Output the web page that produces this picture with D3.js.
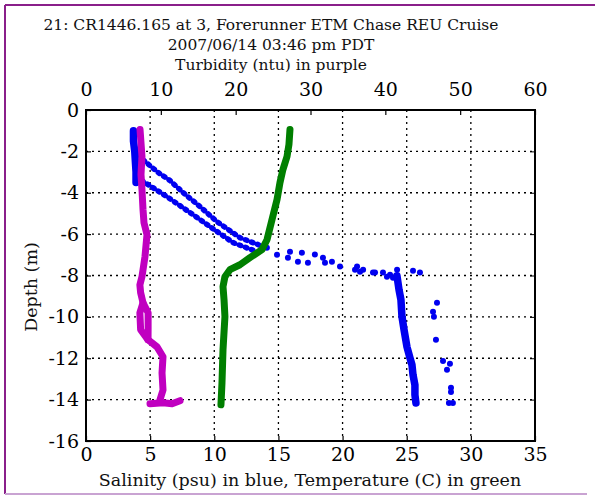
<!DOCTYPE html>
<html>
<head>
<meta charset="utf-8">
<script src="https://cdn.jsdelivr.net/npm/d3@7"></script>
<style>
  body { margin: 0; background: #fff; }
  svg { font-family: "DejaVu Serif", serif; }
</style>
</head>
<body>
<svg id="vis" width="595" height="496"></svg>
<script>
// title lines
var titleLines = [
  "21: CR1446.165 at 3, Forerunner ETM Chase REU Cruise",
  "2007/06/14 03:46 pm PDT",
  "Turbidity (ntu) in purple"
];
var bottomTicks = [0, 5, 10, 15, 20, 25, 30, 35];
var topTicks = [0, 10, 20, 30, 40, 50, 60];
var depthTicks = [0, -2, -4, -6, -8, -10, -12, -14, -16];

// salinity (psu), depth (m) -- left part of the cast and the two diagonal branches
var salLeft = [[3.7,-1.0],[3.7,-1.5],[3.8,-2.0],[3.85,-2.5],[3.9,-3.0],[3.9,-3.5]];
var salUpper = [[3.9,-1.9],[4.44,-2.4],[5.53,-2.98],[6.55,-3.41],[7.56,-3.99],[8.89,-4.67],
  [10.21,-5.4],[12.0,-6.17],[13.8,-6.6]];
var salLower = [[3.9,-3.27],[4.6,-3.51],[6.31,-4.19],[8.11,-4.96],[9.67,-5.64],[11.46,-6.41],[13.33,-6.85]];
// salinity scattered points across the halocline
var salDots = [[15.9,-6.85],[16.83,-6.9],[17.84,-6.99],[18.47,-7.14],[19.17,-7.33],[19.8,-7.57],
  [21.13,-7.57],[21.6,-7.72],[22.37,-7.86],[23.15,-7.86],[23.7,-7.96],[24.25,-7.72],
  [14.1,-6.66],[14.89,-7.0],[15.74,-7.14],[16.52,-7.33],[17.3,-7.38],[18.63,-7.38],
  [20.97,-7.72],[21.36,-7.82],[22.53,-7.86],[23.46,-8.06],[23.93,-8.11],
  [25.49,-7.77],[26.03,-7.86],[27.36,-9.32],[27.05,-9.75],[27.12,-9.99],[27.28,-11.11],
  [27.83,-12.13],[28.37,-12.27],[28.14,-12.56],[28.45,-13.43],[28.45,-13.63],[28.29,-14.16],[28.6,-14.16]];
// salinity below the halocline
var salDeep = [[24.24,-8.01],[24.4,-8.69],[24.55,-9.17],[24.63,-9.99],[24.79,-10.62],[25.02,-11.45],
  [25.25,-11.98],[25.41,-12.32],[25.49,-12.8],[25.64,-13.29],[25.64,-13.77],[25.72,-14.16]];

// temperature (C), depth (m)
var temp = [[15.9,-0.94],[15.82,-1.67],[15.67,-2.25],[15.35,-2.88],[15.12,-3.51],[14.89,-4.33],
  [14.5,-5.3],[14.11,-6.27],[13.72,-6.75],[12.78,-7.14],[12.0,-7.48],[11.22,-7.72],[10.83,-8.06],
  [10.68,-8.54],[10.76,-9.17],[10.83,-9.99],[10.68,-11.59],[10.6,-13.19],[10.52,-14.25]];

// turbidity (ntu), depth (m)
var turb = [[7.22,-0.94],[7.48,-2.25],[7.35,-3.12],[7.48,-3.85],[7.62,-4.82],[7.75,-5.45],
  [8.15,-6.03],[7.88,-7.09],[7.48,-8.06],[7.2,-8.45],[7.3,-8.83],[7.62,-9.32],[7.2,-9.8],
  [7.3,-10.62],[8.29,-11.11],[9.49,-11.45],[10.29,-11.93],[10.16,-12.71],[10.29,-13.53],[9.89,-14.01]];
var turbLoop = [[7.62,-9.32],[8.3,-9.8],[8.3,-10.6],[8.29,-11.11]];
var turbBottom = [[8.55,-14.2],[10.3,-14.15],[11.5,-14.2],[12.56,-14.05]];

var svg = d3.select("#vis");

var margin = {top: 110, right: 60, bottom: 55, left: 86};
var plotWidth = 535 - margin.left;
var plotHeight = 441 - margin.top;

// purple frame
svg.append("line").attr("x1", 5).attr("x2", 595).attr("y1", 5).attr("y2", 5)
  .attr("stroke", "#8a1f8a").attr("stroke-width", 2);
svg.append("line").attr("x1", 5).attr("x2", 5).attr("y1", 5).attr("y2", 494)
  .attr("stroke", "#8a1f8a").attr("stroke-width", 2);
svg.append("line").attr("x1", 5).attr("x2", 587).attr("y1", 494).attr("y2", 494)
  .attr("stroke", "#c9a3d2").attr("stroke-width", 2);

var xScale = d3.scaleLinear().domain([0, 35]).range([0, plotWidth]);
var tScale = d3.scaleLinear().domain([0, 60]).range([0, plotWidth]);
var yScale = d3.scaleLinear().domain([0, -16]).range([0, plotHeight]);

var plot = svg.append("g").attr("transform", "translate(" + margin.left + "," + margin.top + ")");

// grid
plot.selectAll(".vgrid").data(bottomTicks.slice(1, -1)).enter().append("line")
  .attr("x1", d => xScale(d)).attr("x2", d => xScale(d))
  .attr("y1", 0).attr("y2", plotHeight)
  .attr("stroke", "#000").attr("stroke-width", 1.3).attr("stroke-dasharray", "2,4");
plot.selectAll(".hgrid").data(depthTicks.slice(1, -1)).enter().append("line")
  .attr("x1", 0).attr("x2", plotWidth)
  .attr("y1", d => yScale(d)).attr("y2", d => yScale(d))
  .attr("stroke", "#000").attr("stroke-width", 1.3).attr("stroke-dasharray", "2,4");

// axes, ticks inward
var xAxis = d3.axisBottom(xScale).tickValues(bottomTicks).tickSize(-5).tickPadding(7);
var topAxis = d3.axisTop(tScale).tickValues(topTicks).tickSize(-5).tickPadding(14);
var yAxis = d3.axisLeft(yScale).tickValues(depthTicks).tickSize(-5).tickPadding(7)
  .tickFormat(d => d === 0 ? "0" : String(d));

var xGroup = plot.append("g").attr("transform", "translate(0," + plotHeight + ")").call(xAxis);
var tGroup = plot.append("g").call(topAxis);
var yGroup = plot.append("g").call(yAxis);
plot.append("g").attr("transform", "translate(" + plotWidth + ",0)")
  .call(d3.axisRight(yScale).tickValues(depthTicks).tickSize(-5).tickFormat(""));
[xGroup, tGroup, yGroup].forEach(function(g){
  g.selectAll("text").style("font-family", "DejaVu Serif").style("font-size", "19px").attr("fill", "#000");
  g.select(".domain").remove();
  g.selectAll(".tick line").attr("stroke-width", 1.2);
});
tGroup.selectAll("text").attr("dy", "0");

// data
var salLine = d3.line().x(d => xScale(d[0])).y(d => yScale(d[1])).curve(d3.curveLinear);
var turbLine = d3.line().x(d => tScale(d[0])).y(d => yScale(d[1]));

[salLeft, salDeep].forEach(function(arr){
  plot.append("path").attr("d", salLine(arr)).attr("fill", "none")
    .attr("stroke", "#0000f0").attr("stroke-width", 7.5)
    .attr("stroke-linecap", "round").attr("stroke-linejoin", "round");
});
// the diagonal branches are chains of samples: dash them into dots
[salUpper, salLower].forEach(function(arr){
  plot.append("path").attr("d", salLine(arr)).attr("fill", "none")
    .attr("stroke", "#0000f0").attr("stroke-width", 5.5)
    .attr("stroke-dasharray", "1.5,5")
    .attr("stroke-linecap", "round").attr("stroke-linejoin", "round");
});
plot.selectAll(".saldot").data(salDots).enter().append("circle")
  .attr("cx", d => xScale(d[0])).attr("cy", d => yScale(d[1])).attr("r", 3)
  .attr("fill", "#0000f0");

plot.append("path").attr("d", salLine(temp)).attr("fill", "none")
  .attr("stroke", "#007f00").attr("stroke-width", 7)
  .attr("stroke-linecap", "round").attr("stroke-linejoin", "round");

[turb, turbLoop, turbBottom].forEach(function(arr){
  plot.append("path").attr("d", turbLine(arr)).attr("fill", "none")
    .attr("stroke", "#c000c0").attr("stroke-width", 7)
    .attr("stroke-linecap", "round").attr("stroke-linejoin", "round");
});

// frame
plot.append("rect").attr("width", plotWidth).attr("height", plotHeight)
  .attr("fill", "none").attr("stroke", "#000").attr("stroke-width", 2);

// titles
svg.selectAll(".title").data(titleLines).enter().append("text")
  .attr("x", 271).attr("y", (d, i) => 30 + i * 20)
  .attr("text-anchor", "middle").style("font-size", "15.5px").attr("fill", "#111")
  .text(d => d);

svg.append("text").attr("x", 310).attr("y", 486)
  .attr("text-anchor", "middle").style("font-size", "17.5px").attr("fill", "#111")
  .text("Salinity (psu) in blue, Temperature (C) in green");

svg.append("text")
  .attr("transform", "translate(37,287) rotate(-90)")
  .attr("text-anchor", "middle").style("font-size", "17.5px").attr("fill", "#111")
  .text("Depth (m)");
</script>
</body>
</html>
